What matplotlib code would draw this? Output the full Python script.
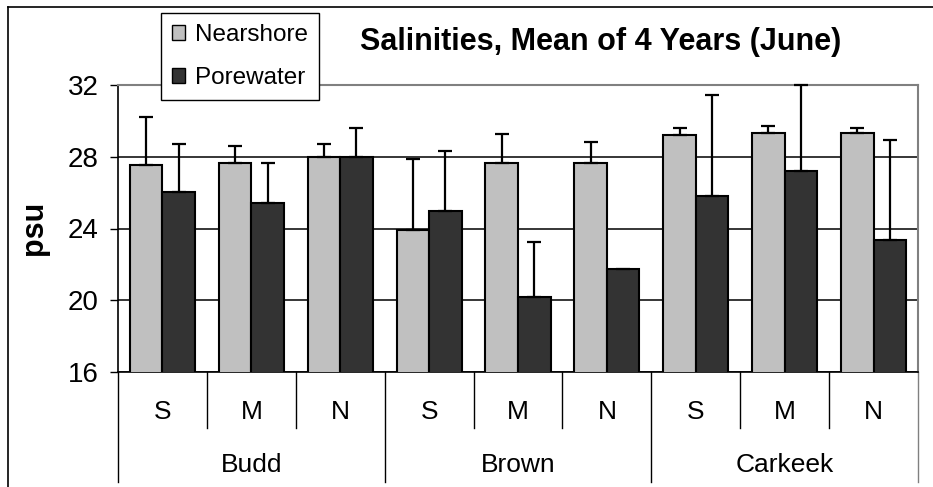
import numpy as np
import matplotlib
matplotlib.use("Agg")
import matplotlib.pyplot as plt
from matplotlib.lines import Line2D
from matplotlib.patches import Patch

plt.rcParams['font.family'] = ['Liberation Sans', 'DejaVu Sans']

sites = ["Budd", "Brown", "Carkeek"]
stations = ["S", "M", "N"]
nearshore = [27.56, 27.67, 28.0, 23.89, 27.67, 27.67, 29.19, 29.30, 29.30]
nearshore_sd = [2.68, 0.94, 0.72, 4.0, 1.61, 1.16, 0.44, 0.42, 0.33]
porewater = [26.04, 25.41, 28.0, 24.96, 20.18, 21.72, 25.81, 27.22, 23.35]
porewater_sd = [2.68, 2.26, 1.63, 3.35, 3.04, np.nan, 5.62, 4.78, 5.59]
yticks = [16, 20, 24, 28, 32]

W, H = 933, 487
fig = plt.figure(figsize=(W / 100, H / 100), dpi=100)
ax = fig.add_axes([118 / W, 1 - 372 / H, 800 / W, 287 / H])

n = len(nearshore)
x = np.arange(n)
w = 0.366

ax.bar(x - w / 2, nearshore, w, color="#C0C0C0", edgecolor="black", linewidth=1.5, zorder=3)
ax.bar(x + w / 2, porewater, w, color="#333333", edgecolor="black", linewidth=1.5, zorder=3)
zeros = np.zeros(n)
ax.errorbar(x - w / 2, nearshore, yerr=[zeros, nearshore_sd], fmt="none", ecolor="black",
            elinewidth=1.6, capsize=5.3, capthick=1.6, zorder=4, clip_on=False)
ax.errorbar(x + w / 2, porewater, yerr=[zeros, porewater_sd], fmt="none", ecolor="black",
            elinewidth=1.6, capsize=5.3, capthick=1.6, zorder=4, clip_on=False)

ax.set_xlim(-0.5, n - 0.5)
ax.set_ylim(16, 32)
ax.set_yticks(yticks)
ax.tick_params(axis="y", direction="out", length=6, width=1, labelsize=20, pad=8)
ax.set_xticks([])
ax.yaxis.grid(True, color="black", linewidth=1.1, zorder=0)
ax.set_axisbelow(True)
for s in ["top", "right"]:
    ax.spines[s].set_color("#808080")
    ax.spines[s].set_linewidth(1.5)
ax.spines["left"].set_linewidth(1.2)
ax.spines["bottom"].set_linewidth(1.2)

# category axis (two levels)
tr = ax.get_xaxis_transform()
for b in np.arange(-0.5, n, 1.0):
    group_edge = (b + 0.5) % 3 == 0
    low = -0.383 if group_edge else -0.195
    col = "#808080" if b == n - 0.5 else "black"
    ax.plot([b, b], [0, low], transform=tr, color=col, linewidth=1, clip_on=False)
for i in range(n):
    ax.text(i, -0.139, stations[i % 3], transform=tr, ha="center", va="center", fontsize=19)
for g, name in enumerate(sites):
    ax.text(g * 3 + 1, -0.324, name, transform=tr, ha="center", va="center", fontsize=19)

fig.text(34 / W, 1 - 228 / H, "psu", rotation=90, ha="center", va="center",
         fontsize=22, fontweight="bold")
fig.text(601 / W, 1 - 42 / H, "Salinities, Mean of 4 Years (June)", ha="center",
         va="center", fontsize=22, fontweight="bold")

handles = [Patch(facecolor="#C0C0C0", edgecolor="black", linewidth=1),
           Patch(facecolor="#333333", edgecolor="black", linewidth=1)]
leg = fig.legend(handles, ["Nearshore", "Porewater"], loc="upper left",
                 bbox_to_anchor=(161 / W, 1 - 13 / H), fontsize=17.5, frameon=True,
                 fancybox=False, edgecolor="black", framealpha=1, borderpad=0.45,
                 labelspacing=0.86, handlelength=0.55, handleheight=0.55, handletextpad=0.4,
                 borderaxespad=0)
leg.get_frame().set_linewidth(1)
leg.set_zorder(10)

# outer chart border (top and left visible)
fig.add_artist(Line2D([8 / W, 1], [1 - 7 / H, 1 - 7 / H], color="black", linewidth=1.2))
fig.add_artist(Line2D([8 / W, 8 / W], [0, 1 - 7 / H], color="black", linewidth=1.2))

fig.savefig("out.png", dpi=100)
